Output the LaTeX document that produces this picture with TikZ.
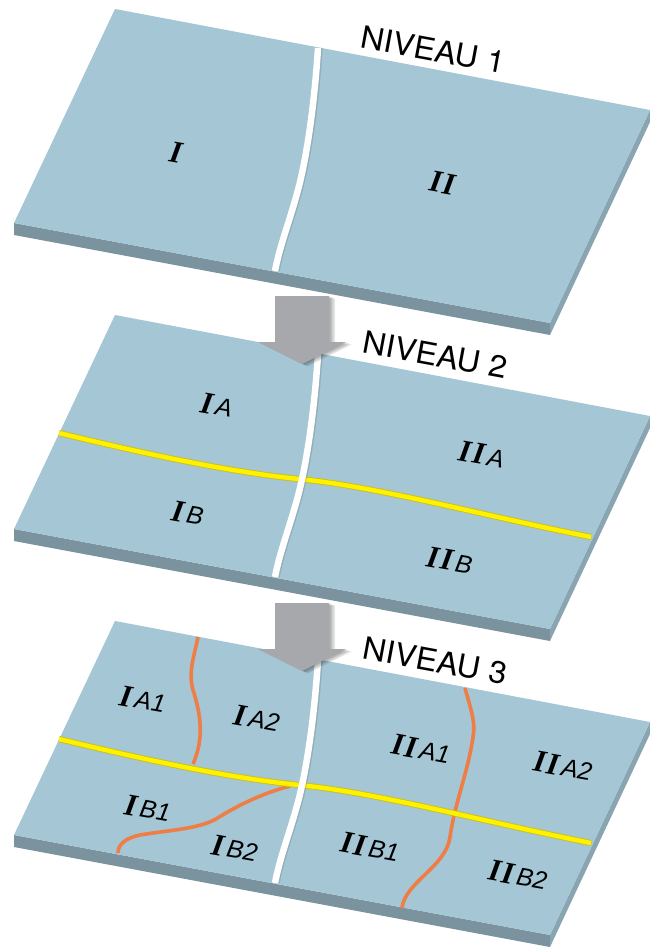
\documentclass[tikz,border=0pt]{standalone}
\usepackage{fontspec}
\usepackage{graphicx}
\newfontfamily\herosfont{TeX Gyre Heros}
\newfontfamily\arialfont{Liberation Sans}
\newfontfamily\timesfont{Liberation Serif}
\definecolor{topface}{HTML}{A5C6D4}
\definecolor{botface}{HTML}{7A939E}
\definecolor{rightface}{HTML}{89A5B1}
\definecolor{arrowgray}{HTML}{A6A8AB}
\definecolor{yelmain}{HTML}{FFF200}
\definecolor{yeledge}{HTML}{CDBE10}
\definecolor{orng}{HTML}{EE7E45}
\newcommand\rnum[1]{{\timesfont\fontsize{31}{31}\selectfont\bfseries\itshape #1}}
\newcommand\sublab[1]{{\arialfont\itshape\fontsize{25}{25}\selectfont #1}}
\newcommand\lab[2]{\rnum{#1}\hspace{3pt}\sublab{#2}}
\newcommand\RII{I\kern1.5pt I}
\tikzset{
  niveau/.style={font=\herosfont\fontsize{31}{31}\selectfont, rotate=-10.5, inner sep=0pt},
  lbl/.style={rotate=-10, inner sep=0pt},
  slab/.pic={
    \fill[botface] (14,223) -- (550,323) -- (550,335) -- (14,235) -- cycle;
    \fill[rightface] (650,110) -- (550,323) -- (550,335) -- (650,122) -- cycle;
    \fill[topface] (115,9) -- (650,110) -- (550,323) -- (14,223) -- cycle;
  },
  divider/.pic={
    \draw[line width=5pt, black, opacity=0.12, xshift=2.2pt]
      (318,48) .. controls (314,110) and (306,160) .. (298,190) .. controls (290,220) and (280,245) .. (275,271);
    \draw[line width=6.5pt, white]
      (318,48) .. controls (314,110) and (306,160) .. (298,190) .. controls (290,220) and (280,245) .. (275,271);
  },
  yellowline/.pic={
    \draw[line width=6pt, yeledge]
      (59,127) .. controls (150,149) and (230,166) .. (299,173) .. controls (380,181) and (480,209) .. (591,231);
    \draw[line width=4.4pt, yelmain]
      (59,127) .. controls (150,149) and (230,166) .. (299,173) .. controls (380,181) and (480,209) .. (591,231);
  },
  orangeline/.style={line width=3.6pt, orng},
  bigarrow/.pic={
    \foreach \d in {1.5,3,4.5,6}{
      \fill[black, opacity=0.09, xshift=\d pt, yshift=-0.4*\d pt]
        (-27,0) -- (27,0) -- (27,46) -- (44,46) -- (0,68) -- (-44,46) -- (-27,46) -- cycle;
    }
    \fill[arrowgray] (-27,0) -- (27,0) -- (27,46) -- (44,46) -- (0,68) -- (-44,46) -- (-27,46) -- cycle;
  }
}
\begin{document}
\begin{tikzpicture}[x=1pt, y=-1pt]
\useasboundingbox (0,0) rectangle (650,947);
\fill[white] (0,0) rectangle (650,947);

% ---------- Panel 1 ----------
\pic at (0,0) {slab};
\pic at (0,0) {divider};
\node[niveau] (n1) at (433,50) {\scalebox{1.04}[1]{NIVEAU 1}};
\node[lbl] (p1a) at (176,153) {\rnum{I}};
\node[lbl] (p1b) at (443,183) {\rnum{\RII}};

% ---------- Panel 2 ----------
\begin{scope}[shift={(0,306)}]
  \pic at (0,0) {slab};
  \pic at (0,0) {yellowline};
  \pic at (0,0) {divider};
\end{scope}
\pic at (302,296) {bigarrow};
\node[niveau] (n2) at (435,355) {\scalebox{1.04}[1]{NIVEAU 2}};
\node[lbl] (p2a) at (217,405) {\lab{I}{A}};
\node[lbl] (p2b) at (482,454) {\lab{\RII}{A}};
\node[lbl] (p2c) at (188,513) {\lab{I}{B}};
\node[lbl] (p2d) at (450,560) {\lab{\RII}{B}};

% ---------- Panel 3 ----------
\begin{scope}[shift={(0,612)}]
  \pic at (0,0) {slab};
  \draw[orangeline] (198,25) .. controls (194,45) and (188,60) .. (193,78) .. controls (200,100) and (205,125) .. (193,152);
  \draw[orangeline] (290,174) .. controls (260,182) and (235,195) .. (216,207) .. controls (198,217) and (170,218) .. (140,223) .. controls (126,226) and (118,232) .. (118,241);
  \draw[orangeline] (465,76) .. controls (470,95) and (476,110) .. (473,125) .. controls (468,160) and (455,190) .. (450,225) .. controls (446,255) and (405,270) .. (402,296);
  \pic at (0,0) {yellowline};
  \pic at (0,0) {divider};
\end{scope}
\pic at (302,603) {bigarrow};
\node[niveau] (n3) at (435,661) {\scalebox{1.04}[1]{NIVEAU 3}};
\node[lbl] (p3a) at (143,699) {\lab{I}{A1}};
\node[lbl] (p3b) at (257,718) {\lab{I}{A2}};
\node[lbl] (p3c) at (421,749) {\lab{\RII}{A1}};
\node[lbl] (p3d) at (563,766) {\lab{\RII}{A2}};
\node[lbl] (p3e) at (148,808) {\lab{I}{B1}};
\node[lbl] (p3f) at (235,848) {\lab{I}{B2}};
\node[lbl] (p3g) at (370,847) {\lab{\RII}{B1}};
\node[lbl] (p3h) at (518,875) {\lab{\RII}{B2}};
\end{tikzpicture}
\end{document}
